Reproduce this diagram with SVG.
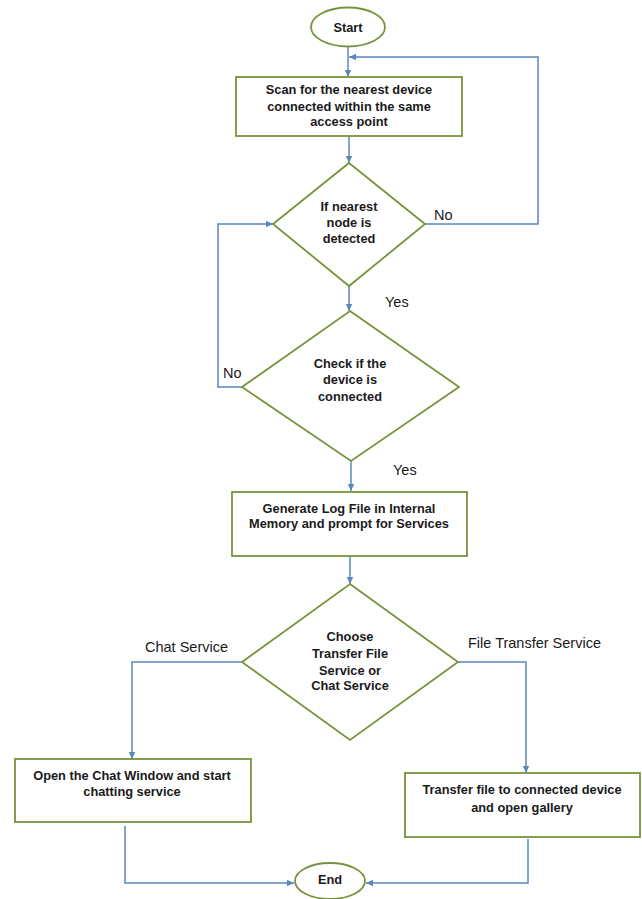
<svg xmlns="http://www.w3.org/2000/svg" width="642" height="899" viewBox="0 0 642 899">
<defs>
<marker id="ah" markerUnits="userSpaceOnUse" markerWidth="8" markerHeight="8" refX="7" refY="4" orient="auto">
<path d="M0,0.8 L7,4 L0,7.2 Z" fill="#5b87bd"/>
</marker>
<style>
.n{fill:#fff;stroke:#77933c;stroke-width:1.8}
.c{fill:none;stroke:#5b87bd;stroke-width:1.5;marker-end:url(#ah)}
.c0{fill:none;stroke:#5b87bd;stroke-width:1.5}
.t{font-family:"Liberation Sans",Arial,sans-serif;font-size:12.8px;font-weight:bold;fill:#1a1a1a;text-anchor:middle}
.l{font-family:"Liberation Sans",Arial,sans-serif;font-size:14.5px;fill:#1a1a1a}
</style>
</defs>
<rect width="642" height="899" fill="#fff"/>
<g id="connectors">
<path class="c" d="M348,47 V77"/>
<path class="c" d="M425,224 H538 V57 H349"/>
<path class="c" d="M349,136 V163"/>
<path class="c" d="M349,286 V311"/>
<path class="c" d="M242,387 H218 V224 H273"/>
<path class="c" d="M351,461 V491"/>
<path class="c" d="M350,556 V584"/>
<path class="c" d="M242,662 H132 V759"/>
<path class="c" d="M458,662 H526 V773"/>
<path class="c" d="M125,826 V883 H294"/>
<path class="c" d="M528,839 V883 H366"/>
<text class="l" x="434" y="220">No</text>
<text class="l" x="385" y="307">Yes</text>
<text class="l" x="223" y="378">No</text>
<text class="l" x="393" y="475">Yes</text>
<text class="l" x="145" y="652">Chat Service</text>
<text class="l" x="468" y="648">File Transfer Service</text>
</g>
<g id="start">
<ellipse class="n" cx="348" cy="27" rx="37" ry="19.5"/>
<text class="t" x="348" y="32">Start</text>
</g>
<g id="scan">
<rect class="n" x="236" y="77" width="226" height="59"/>
<text class="t" x="349" y="94">Scan for the nearest device</text>
<text class="t" x="349" y="111">connected within the same</text>
<text class="t" x="349" y="126">access point</text>
</g>
<g id="detect">
<polygon class="n" points="349,163 425,224 349,286 273,224"/>
<text class="t" x="349" y="211">If nearest</text>
<text class="t" x="349" y="227">node is</text>
<text class="t" x="349" y="243">detected</text>
</g>
<g id="check">
<polygon class="n" points="350,311 459,387 351,461 242,387"/>
<text class="t" x="350" y="368">Check if the</text>
<text class="t" x="350" y="384">device is</text>
<text class="t" x="350" y="401">connected</text>
</g>
<g id="generate">
<rect class="n" x="232" y="492" width="235" height="64"/>
<text class="t" x="349" y="513">Generate Log File in Internal</text>
<text class="t" x="349" y="528">Memory and prompt for Services</text>
</g>
<g id="choose">
<polygon class="n" points="350,584 458,662 350,740 242,662"/>
<text class="t" x="350" y="641">Choose</text>
<text class="t" x="350" y="658">Transfer File</text>
<text class="t" x="350" y="675">Service or</text>
<text class="t" x="350" y="690">Chat Service</text>
</g>
<g id="chat">
<rect class="n" x="15" y="759" width="236" height="63"/>
<text class="t" x="132" y="780">Open the Chat Window and start</text>
<text class="t" x="132" y="796">chatting service</text>
</g>
<g id="transfer">
<rect class="n" x="405" y="773" width="235" height="64"/>
<text class="t" x="522" y="794">Transfer file to connected device</text>
<text class="t" x="522" y="812">and open gallery</text>
</g>
<g id="end">
<ellipse class="n" cx="330" cy="881" rx="35" ry="18"/>
<text class="t" x="330" y="884">End</text>
</g>
</svg>
